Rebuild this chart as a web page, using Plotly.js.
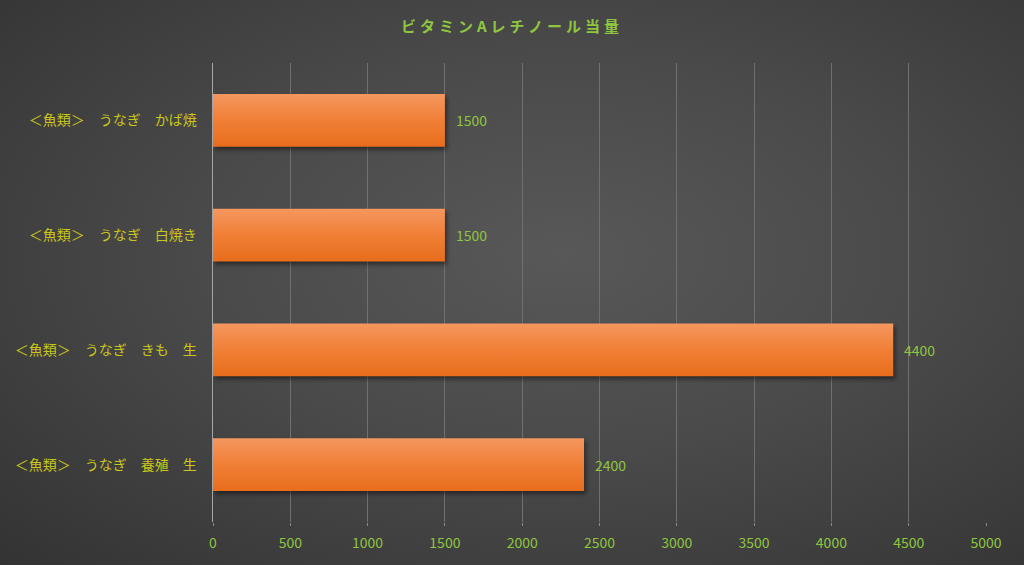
<!DOCTYPE html>
<html><head><meta charset="utf-8">
<script src="https://cdn.plot.ly/plotly-3.0.1.min.js"></script>
<style>
html,body{margin:0;padding:0;}
#chart{width:1024px;height:565px;background:radial-gradient(ellipse at 55% 45%, #585858 0%, #4a4a4a 45%, #333333 100%);}
.gtitle{letter-spacing:4px;}
.barlayer .point path{fill:url(#barGrad) !important; filter:drop-shadow(2px 3px 2px rgba(0,0,0,0.45));}
</style></head>
<body><div id="chart"></div>
<script>
const categories = ["＜魚類＞　うなぎ　かば焼", "＜魚類＞　うなぎ　白焼き", "＜魚類＞　うなぎ　きも　生", "＜魚類＞　うなぎ　養殖　生"];
const values = [1500, 1500, 4400, 2400];
const xTicks = [0, 500, 1000, 1500, 2000, 2500, 3000, 3500, 4000, 4500, 5000];

const FONT = 'Noto Sans CJK JP, sans-serif';
const trace = {
  type: 'bar', orientation: 'h',
  y: categories, x: values,
  marker: {color: '#ef7a2e', line: {width: 0}},
  width: 0.46, hoverinfo: 'skip'
};
const annotations = categories.map((c, i) => ({
  x: values[i], y: c, xref: 'x', yref: 'y', text: String(values[i]),
  showarrow: false, xanchor: 'left', yanchor: 'middle', xshift: 9,
  font: {color: '#8ec63f', size: 14, family: FONT}
}));
const layout = {
  width: 1024, height: 565,
  paper_bgcolor: 'rgba(0,0,0,0)', plot_bgcolor: 'rgba(0,0,0,0)',
  margin: {l: 213, r: 38, t: 63, b: 43},
  showlegend: false,
  annotations: annotations,
  title: {text: 'ビタミンAレチノール当量', x: 0.5, xanchor: 'center', y: 0.952, yanchor: 'middle',
    font: {color: '#8ec63f', size: 15, family: FONT, weight: 'bold'}},
  xaxis: {range: [0, 5000], tickvals: xTicks, ticktext: xTicks.map(String),
    showgrid: true, gridcolor: '#707070', gridwidth: 1, zeroline: false,
    ticks: 'outside', ticklen: 3, tickcolor: '#8a8a8a', showline: false, ticklabelstandoff: 5,
    tickfont: {color: '#8ec63f', size: 14, family: FONT}, fixedrange: true},
  yaxis: {autorange: 'reversed', showline: true, linecolor: '#a6a6a6', linewidth: 1.5,
    ticks: '', showgrid: false, ticklabelstandoff: 12,
    tickfont: {color: '#c9c71a', size: 14, family: FONT}, fixedrange: true}
};
Plotly.newPlot('chart', [trace], layout, {displayModeBar: false, staticPlot: true}).then(gd => {
  const svg = gd.querySelector('svg.main-svg');
  const ns = 'http://www.w3.org/2000/svg';
  let defs = svg.querySelector('defs');
  if (!defs) { defs = document.createElementNS(ns, 'defs'); svg.insertBefore(defs, svg.firstChild); }
  const g = document.createElementNS(ns, 'linearGradient');
  g.setAttribute('id', 'barGrad'); g.setAttribute('x1', '0'); g.setAttribute('y1', '0');
  g.setAttribute('x2', '0'); g.setAttribute('y2', '1');
  [['0', '#f5975f'], ['0.5', '#f07f36'], ['1', '#e86d1c']].forEach(([o, c]) => {
    const s = document.createElementNS(ns, 'stop'); s.setAttribute('offset', o); s.setAttribute('stop-color', c); g.appendChild(s);
  });
  defs.appendChild(g);
});
</script></body></html>
